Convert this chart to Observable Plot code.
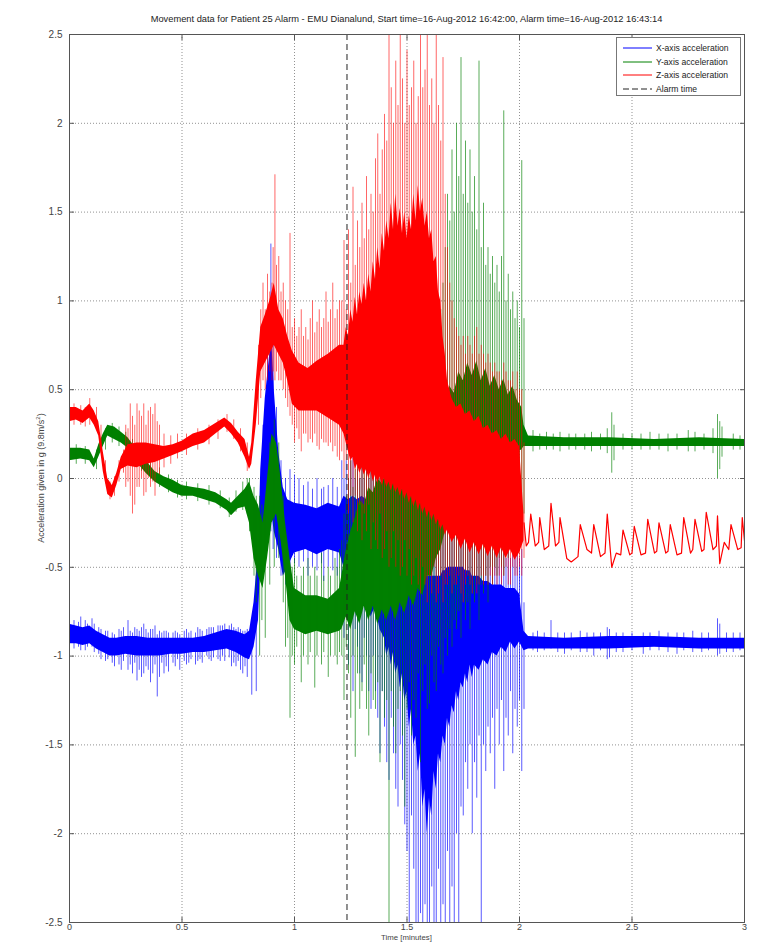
<!DOCTYPE html>
<html><head><meta charset="utf-8">
<script src="https://cdn.jsdelivr.net/npm/d3@7"></script>
<script src="https://cdn.jsdelivr.net/npm/@observablehq/plot@0.6"></script>
<style>
body{margin:0;background:#fff;overflow:hidden;font-family:"Liberation Sans",Arial,sans-serif;}
#wrap{position:relative;width:764px;height:942px;overflow:hidden;}
#title{position:absolute;left:69px;width:675px;top:14px;text-align:center;font-size:9.3px;color:#222;white-space:nowrap;}
#ylab{position:absolute;left:40px;top:478px;transform:translate(-50%,-50%) rotate(-90deg);font-size:9px;color:#444;white-space:nowrap;}
#xlab{position:absolute;left:69px;width:675px;top:934px;text-align:center;font-size:7.8px;line-height:8px;color:#444;}
#legend{position:absolute;left:616px;top:37px;width:123px;height:57px;border:1px solid #777;background:#fff;font-size:8.6px;color:#222;}
#legend .row{position:absolute;left:5px;height:12px;display:flex;align-items:center;}
#legend svg{margin-right:4px;}
</style></head>
<body>
<div id="wrap">
<div id="chart"></div>
<div id="title"></div>
<div id="ylab">Acceleration given in g (9.8m/s<sup style="font-size:6px">2</sup>)</div>
<div id="xlab">Time [minutes]</div>
<div id="legend"></div>
</div>
<script>
const titleText = "Movement data for Patient 25 Alarm - EMU Dianalund, Start time=16-Aug-2012 16:42:00, Alarm time=16-Aug-2012 16:43:14";
const seriesNames = ["X-axis acceleration", "Y-axis acceleration", "Z-axis acceleration", "Alarm time"];
const seriesColors = ["#0000ff", "#008000", "#ff0000", "#222222"];
const xTicks = [0, 0.5, 1, 1.5, 2, 2.5, 3];
const yTicks = [-2.5, -2, -1.5, -1, -0.5, 0, 0.5, 1, 1.5, 2, 2.5];
const alarmTime = [1.2333];

// X-axis (blue): dense core [time, low, high]
const xBand = [
[0.00,-0.93,-0.82],[0.03,-0.93,-0.83],[0.06,-0.94,-0.84],[0.09,-0.93,-0.83],[0.12,-0.96,-0.86],
[0.15,-0.98,-0.88],[0.18,-1.00,-0.90],[0.21,-1.00,-0.90],[0.25,-0.99,-0.89],[0.30,-1.00,-0.89],
[0.35,-1.00,-0.90],[0.40,-1.00,-0.90],[0.45,-0.99,-0.90],[0.50,-0.99,-0.90],[0.55,-0.98,-0.90],
[0.60,-0.98,-0.89],[0.65,-0.97,-0.87],[0.70,-0.96,-0.85],[0.74,-0.98,-0.86],[0.78,-1.01,-0.88],
[0.80,-1.02,-0.86],[0.82,-0.95,-0.70],[0.84,-0.80,-0.40],[0.85,-0.45,0.05],[0.87,-0.20,0.45],
[0.89,-0.15,0.70],[0.90,-0.20,0.75],[0.91,-0.30,0.50],[0.93,-0.40,0.15],[0.95,-0.55,-0.05],
[0.97,-0.50,-0.12],[1.00,-0.42,-0.14],[1.05,-0.40,-0.15],[1.10,-0.43,-0.17],[1.15,-0.40,-0.14],
[1.20,-0.42,-0.16],[1.22,-0.50,-0.10],[1.24,-0.48,-0.12],[1.26,-0.60,-0.10],[1.28,-0.55,-0.12],
[1.30,-0.70,-0.10],[1.32,-0.62,-0.12],[1.34,-0.78,-0.15],[1.36,-0.72,-0.15],[1.38,-0.85,-0.20],
[1.40,-0.90,-0.25],[1.41,-1.00,-0.25],[1.42,-0.95,-0.28],[1.43,-1.05,-0.30],[1.44,-0.98,-0.30],
[1.45,-1.10,-0.35],[1.46,-1.05,-0.35],[1.47,-1.18,-0.38],[1.48,-1.10,-0.40],[1.49,-1.25,-0.42],
[1.50,-1.20,-0.45],[1.51,-1.40,-0.45],[1.52,-1.30,-0.48],[1.53,-1.50,-0.48],[1.54,-1.45,-0.50],
[1.55,-1.65,-0.50],[1.56,-1.55,-0.52],[1.57,-1.85,-0.52],[1.58,-1.75,-0.55],[1.59,-2.00,-0.55],
[1.60,-1.80,-0.55],[1.61,-1.90,-0.55],[1.62,-1.65,-0.55],[1.63,-1.75,-0.55],[1.64,-1.55,-0.55],
[1.65,-1.60,-0.55],[1.66,-1.45,-0.52],[1.67,-1.50,-0.52],[1.68,-1.35,-0.50],[1.69,-1.40,-0.50],
[1.70,-1.28,-0.50],[1.71,-1.32,-0.50],[1.72,-1.20,-0.50],[1.73,-1.25,-0.50],[1.74,-1.15,-0.50],
[1.75,-1.18,-0.50],[1.76,-1.10,-0.52],[1.77,-1.15,-0.52],[1.78,-1.05,-0.52],[1.79,-1.12,-0.55],
[1.80,-1.05,-0.55],[1.82,-1.08,-0.55],[1.84,-1.02,-0.58],[1.86,-1.05,-0.58],[1.88,-0.98,-0.60],
[1.90,-1.00,-0.60],[1.92,-0.95,-0.60],[1.94,-0.98,-0.62],[1.96,-0.92,-0.62],[1.98,-0.96,-0.62],
[2.00,-0.92,-0.65],[2.02,-0.97,-0.86],[2.04,-0.96,-0.89],[2.20,-0.96,-0.90],[2.40,-0.96,-0.89],
[2.60,-0.95,-0.89],[2.80,-0.96,-0.90],[3.00,-0.96,-0.90]
];
// X-axis (blue): spikes [time, low, high]
const xSpikes = [
[0.02,-0.96,-0.80],[0.04,-0.95,-0.81],[0.05,-0.97,-0.78],[0.07,-0.97,-0.80],[0.08,-0.95,-0.82],
[0.10,-0.95,-0.79],[0.11,-0.98,-0.82],[0.13,-0.99,-0.84],[0.14,-1.02,-0.85],[0.16,-1.03,-0.86],
[0.17,-1.02,-0.86],[0.19,-1.04,-0.87],[0.20,-1.06,-0.88],[0.22,-1.05,-0.85],[0.23,-1.08,-0.86],
[0.24,-1.03,-0.84],[0.26,-1.08,-0.80],[0.27,-1.05,-0.86],[0.28,-1.10,-0.87],[0.29,-1.04,-0.84],
[0.30,-1.14,-0.85],[0.31,-1.08,-0.86],[0.32,-1.12,-0.84],[0.33,-1.10,-0.82],[0.34,-1.06,-0.85],
[0.35,-1.08,-0.87],[0.36,-1.15,-0.85],[0.37,-1.10,-0.85],[0.38,-1.05,-0.83],[0.39,-1.23,-0.88],
[0.40,-1.12,-0.86],[0.41,-1.04,-0.87],[0.42,-1.10,-0.86],[0.43,-1.06,-0.86],[0.44,-1.09,-0.87],
[0.46,-1.04,-0.87],[0.47,-1.06,-0.86],[0.48,-1.02,-0.87],[0.49,-1.08,-0.88],[0.51,-1.03,-0.86],
[0.52,-1.05,-0.85],[0.53,-1.04,-0.87],[0.54,-1.02,-0.86],[0.56,-1.05,-0.87],[0.57,-1.03,-0.84],
[0.58,-1.02,-0.85],[0.59,-1.04,-0.86],[0.61,-1.00,-0.85],[0.62,-1.02,-0.84],[0.63,-1.03,-0.84],
[0.64,-1.01,-0.84],[0.66,-1.02,-0.83],[0.67,-1.03,-0.83],[0.68,-1.00,-0.83],[0.69,-1.03,-0.82],
[0.71,-1.01,-0.83],[0.72,-1.06,-0.82],[0.73,-1.04,-0.84],[0.74,-1.06,-0.85],[0.75,-1.03,-0.84],
[0.76,-1.08,-0.85],[0.77,-1.10,-0.86],[0.78,-1.06,-0.86],[0.79,-1.12,-0.85],[0.81,-1.22,-0.80],
[0.83,-1.20,-0.55],[0.86,-0.50,0.30],[0.88,-0.35,0.95],[0.895,-0.30,1.32],[0.905,-0.40,0.85],
[0.92,-0.45,0.40],[0.94,-0.55,0.10],[0.96,-0.60,0.00],[0.98,-0.55,0.05],[1.00,-0.48,0.02],
[1.02,-0.50,0.00],[1.04,-0.47,-0.04],[1.06,-0.55,-0.02],[1.08,-0.50,-0.06],[1.10,-0.52,0.00],
[1.12,-0.48,-0.06],[1.13,-0.58,-0.05],[1.15,-0.50,-0.04],[1.17,-0.52,0.00],[1.19,-0.55,-0.05],
[1.21,-0.75,0.10],[1.22,-0.90,0.00],[1.23,-0.60,0.10],[1.24,-1.05,0.00],[1.25,-0.80,0.10],
[1.26,-1.20,0.15],[1.27,-0.85,0.00],[1.28,-0.95,0.05],[1.29,-1.10,0.00],[1.30,-1.15,0.10],
[1.31,-0.90,0.00],[1.32,-1.00,0.10],[1.33,-1.20,0.00],[1.34,-1.30,0.05],[1.35,-1.00,0.00],
[1.36,-1.20,0.10],[1.37,-1.35,0.00],[1.38,-1.55,0.00],[1.39,-1.20,0.05],[1.40,-1.40,0.15],
[1.41,-1.60,0.00],[1.42,-1.70,0.00],[1.43,-1.35,0.05],[1.44,-1.55,0.05],[1.45,-1.75,0.00],
[1.46,-1.85,0.00],[1.47,-1.50,-0.05],[1.48,-1.70,-0.10],[1.49,-1.95,-0.05],[1.50,-2.10,-0.10],
[1.51,-2.60,-0.10],[1.52,-1.90,-0.15],[1.53,-2.20,-0.10],[1.54,-2.60,-0.20],[1.55,-2.60,-0.20],
[1.56,-2.45,-0.20],[1.57,-2.60,-0.10],[1.58,-2.40,-0.20],[1.59,-2.60,-0.20],[1.60,-2.60,-0.10],
[1.61,-2.30,-0.20],[1.62,-2.60,-0.20],[1.63,-2.60,-0.20],[1.64,-2.20,-0.30],[1.65,-2.60,-0.20],
[1.66,-2.40,-0.20],[1.67,-2.60,-0.30],[1.68,-2.10,-0.20],[1.69,-2.60,-0.30],[1.70,-2.30,-0.30],
[1.71,-2.60,-0.30],[1.72,-2.00,-0.30],[1.73,-2.60,-0.30],[1.74,-1.85,-0.35],[1.75,-1.90,-0.30],
[1.76,-1.60,-0.35],[1.77,-1.75,-0.30],[1.78,-1.50,-0.35],[1.79,-2.00,-0.30],[1.80,-1.60,-0.35],
[1.81,-1.80,-0.30],[1.82,-1.45,-0.35],[1.83,-2.60,-0.30],[1.84,-1.50,-0.40],[1.85,-1.65,-0.35],
[1.86,-1.40,-0.40],[1.87,-1.55,-0.30],[1.88,-1.35,-0.40],[1.89,-1.75,-0.35],[1.90,-1.30,-0.40],
[1.91,-1.50,-0.35],[1.92,-1.25,-0.40],[1.93,-1.65,-0.40],[1.94,-1.35,-0.45],[1.95,-1.45,-0.40],
[1.96,-1.20,-0.45],[1.97,-1.55,-0.40],[1.98,-1.30,-0.45],[1.99,-1.40,-0.40],[2.00,-1.25,-0.45],
[2.01,-1.65,-0.40],[2.02,-1.30,-0.70],
[2.06,-0.97,-0.87],[2.08,-0.98,-0.86],[2.11,-0.97,-0.87],[2.14,-0.96,-0.80],[2.17,-0.98,-0.87],
[2.20,-0.99,-0.87],[2.23,-0.97,-0.87],[2.27,-0.98,-0.86],[2.30,-0.98,-0.87],[2.33,-1.00,-0.87],
[2.36,-0.97,-0.87],[2.39,-1.02,-0.84],[2.40,-1.01,-0.85],[2.43,-0.98,-0.87],[2.46,-0.98,-0.87],
[2.50,-0.97,-0.87],[2.55,-0.99,-0.87],[2.58,-0.97,-0.87],[2.62,-0.97,-0.86],[2.66,-0.98,-0.87],
[2.70,-0.99,-0.87],[2.73,-0.97,-0.87],[2.77,-0.98,-0.86],[2.81,-0.98,-0.87],[2.84,-0.97,-0.87],
[2.88,-1.00,-0.79],[2.89,-0.99,-0.82],[2.92,-0.98,-0.87],[2.95,-0.98,-0.87],[2.98,-0.97,-0.87]
];

// Y-axis (green): dense core
const yBand = [
[0.00,0.10,0.17],[0.05,0.11,0.17],[0.09,0.10,0.16],[0.11,0.06,0.11],[0.13,0.12,0.19],
[0.15,0.18,0.25],[0.17,0.24,0.30],[0.20,0.22,0.29],[0.23,0.20,0.26],[0.26,0.17,0.23],
[0.30,0.09,0.16],[0.34,0.03,0.10],[0.38,-0.02,0.04],[0.42,-0.05,0.01],[0.46,-0.08,-0.01],
[0.50,-0.10,-0.04],[0.55,-0.10,-0.05],[0.60,-0.12,-0.06],[0.65,-0.14,-0.08],[0.70,-0.18,-0.12],
[0.72,-0.21,-0.14],[0.75,-0.17,-0.10],[0.78,-0.16,-0.06],[0.80,-0.25,-0.02],[0.82,-0.45,-0.10],
[0.84,-0.55,-0.15],[0.86,-0.62,-0.25],[0.88,-0.45,0.00],[0.90,-0.25,0.25],[0.92,-0.20,0.20],
[0.94,-0.35,0.00],[0.96,-0.55,-0.25],[0.98,-0.80,-0.45],[1.00,-0.85,-0.62],[1.05,-0.88,-0.66],
[1.10,-0.86,-0.66],[1.15,-0.88,-0.68],[1.20,-0.86,-0.62],[1.21,-0.85,-0.55],[1.23,-0.78,-0.40],
[1.25,-0.85,-0.30],[1.27,-0.75,-0.22],[1.29,-0.82,-0.12],[1.31,-0.72,-0.15],[1.33,-0.80,-0.05],
[1.35,-0.72,-0.08],[1.37,-0.82,0.00],[1.39,-0.74,-0.03],[1.41,-0.80,0.05],[1.43,-0.72,0.00],
[1.45,-0.80,0.08],[1.47,-0.70,0.03],[1.49,-0.76,0.12],[1.51,-0.66,0.08],[1.53,-0.72,0.15],
[1.55,-0.62,0.12],[1.57,-0.66,0.20],[1.59,-0.55,0.18],[1.61,-0.55,0.25],[1.63,-0.45,0.30],
[1.65,-0.40,0.38],[1.67,-0.30,0.42],[1.69,-0.25,0.52],[1.71,-0.15,0.48],[1.73,-0.10,0.60],
[1.75,-0.05,0.55],[1.77,-0.08,0.65],[1.79,0.00,0.58],[1.81,-0.02,0.66],[1.83,0.05,0.55],
[1.85,0.02,0.62],[1.87,0.08,0.52],[1.89,0.05,0.58],[1.91,0.10,0.50],[1.93,0.08,0.56],
[1.95,0.12,0.47],[1.97,0.10,0.52],[1.99,0.15,0.44],[2.01,0.16,0.40],[2.02,0.18,0.30],
[2.04,0.18,0.24],[2.20,0.18,0.23],[2.40,0.18,0.23],[2.60,0.18,0.22],[2.80,0.18,0.23],[3.00,0.18,0.22]
];
// Y-axis (green): spikes
const ySpikes = [
[0.03,0.08,0.19],[0.07,0.08,0.18],[0.12,0.05,0.16],[0.16,0.16,0.28],[0.19,0.20,0.31],
[0.22,0.18,0.29],[0.25,0.14,0.26],[0.28,0.11,0.22],[0.32,0.04,0.15],[0.36,0.00,0.09],
[0.40,-0.05,0.06],[0.44,-0.08,0.02],[0.48,-0.11,-0.01],[0.52,-0.12,-0.02],[0.57,-0.13,-0.03],
[0.62,-0.15,-0.04],[0.67,-0.17,-0.07],[0.71,-0.22,-0.11],[0.74,-0.19,-0.07],[0.77,-0.18,-0.02],
[0.79,-0.20,0.00],[0.80,-0.30,0.00],[0.82,-0.55,-0.05],[0.83,-0.70,-0.10],[0.845,-1.00,-0.10],
[0.855,-0.80,-0.15],[0.87,-0.90,-0.20],[0.89,-0.60,0.20],[0.91,-0.50,0.33],[0.93,-0.45,0.20],
[0.95,-0.70,-0.10],[0.96,-0.95,-0.35],[0.97,-0.90,-0.40],[0.98,-1.35,-0.50],[0.99,-1.00,-0.50],
[1.00,-1.05,-0.45],[1.01,-0.95,-0.55],[1.03,-1.15,-0.55],[1.04,-1.00,-0.50],[1.06,-1.05,-0.45],
[1.07,-0.98,-0.55],[1.09,-1.18,-0.50],[1.10,-1.00,-0.55],[1.12,-1.05,-0.42],[1.13,-0.98,-0.55],
[1.15,-1.12,-0.50],[1.16,-1.00,-0.55],[1.18,-1.00,-0.45],[1.19,-1.05,-0.50],[1.20,-0.98,-0.40],
[1.21,-1.00,-0.35],[1.22,-1.25,-0.20],[1.23,-0.95,-0.10],[1.24,-1.10,0.00],[1.25,-1.35,0.10],
[1.26,-1.00,-0.05],[1.27,-1.57,0.05],[1.28,-1.10,0.15],[1.29,-1.30,0.00],[1.30,-1.20,0.20],
[1.31,-1.05,0.10],[1.32,-1.30,0.05],[1.33,-1.45,0.15],[1.34,-1.10,0.20],[1.35,-1.25,0.05],
[1.36,-1.30,0.25],[1.37,-1.15,0.15],[1.38,-1.60,0.10],[1.39,-1.20,0.25],[1.40,-1.35,0.20],
[1.41,-1.25,0.10],[1.42,-2.60,0.20],[1.43,-1.20,0.30],[1.44,-1.40,0.15],[1.45,-1.55,0.30],
[1.46,-1.30,0.25],[1.47,-1.20,0.35],[1.48,-1.45,0.20],[1.49,-1.85,0.30],[1.50,-1.30,0.40],
[1.51,-1.15,0.30],[1.52,-1.45,0.40],[1.53,-1.25,0.45],[1.54,-1.35,0.35],[1.55,-1.10,0.50],
[1.56,-1.60,0.50],[1.57,-1.20,0.60],[1.58,-1.05,0.55],[1.59,-1.30,0.70],[1.60,-1.27,0.55],
[1.61,-1.00,0.75],[1.62,-1.15,0.90],[1.63,-1.20,0.80],[1.64,-0.95,1.00],[1.65,-1.05,0.95],
[1.66,-1.10,1.10],[1.67,-0.90,1.30],[1.68,-1.00,1.60],[1.69,-0.85,1.45],[1.70,-0.95,1.85],
[1.71,-0.80,1.50],[1.72,-0.85,2.00],[1.73,-0.75,1.70],[1.74,-0.90,2.37],[1.75,-0.70,1.60],
[1.76,-0.80,1.90],[1.77,-0.70,1.55],[1.78,-0.85,1.85],[1.79,-0.65,1.50],[1.80,-0.70,1.70],
[1.81,-0.60,1.40],[1.82,-0.80,2.35],[1.83,-0.60,1.30],[1.84,-0.65,1.55],[1.85,-0.55,1.20],
[1.86,-0.70,1.30],[1.87,-0.50,1.15],[1.88,-0.60,1.25],[1.89,-0.50,1.10],[1.90,-0.55,1.20],
[1.91,-0.45,1.05],[1.92,-0.50,1.25],[1.93,-0.55,2.07],[1.94,-0.40,1.00],[1.95,-0.45,1.15],
[1.96,-0.35,0.95],[1.97,-0.40,1.05],[1.98,-0.30,0.90],[1.99,-0.35,1.00],[2.00,-0.25,0.85],
[2.01,-0.30,1.79],[2.02,-0.20,0.90],
[2.06,0.15,0.27],[2.09,0.16,0.25],[2.12,0.16,0.26],[2.15,0.16,0.25],[2.18,0.15,0.26],
[2.22,0.16,0.25],[2.25,0.16,0.25],[2.29,0.16,0.25],[2.32,0.15,0.26],[2.36,0.16,0.25],
[2.39,0.14,0.28],[2.41,0.03,0.37],[2.42,0.10,0.30],[2.46,0.16,0.25],[2.50,0.16,0.25],
[2.54,0.16,0.25],[2.58,0.16,0.26],[2.62,0.16,0.25],[2.66,0.15,0.25],[2.70,0.16,0.25],
[2.75,0.15,0.27],[2.78,0.15,0.26],[2.82,0.16,0.25],[2.86,0.14,0.28],[2.88,0.00,0.36],
[2.89,0.05,0.32],[2.90,0.12,0.29],[2.95,0.16,0.25],[2.98,0.16,0.24]
];

// Z-axis (red): dense core
const zBand = [
[0.00,0.32,0.40],[0.03,0.33,0.40],[0.06,0.31,0.38],[0.09,0.34,0.42],[0.11,0.30,0.38],
[0.13,0.24,0.32],[0.15,0.04,0.15],[0.17,-0.09,0.00],[0.19,-0.11,-0.04],[0.21,-0.04,0.03],
[0.23,0.05,0.12],[0.26,0.07,0.19],[0.30,0.06,0.20],[0.34,0.08,0.20],[0.38,0.09,0.19],
[0.42,0.11,0.18],[0.46,0.13,0.19],[0.50,0.15,0.21],[0.55,0.18,0.25],[0.60,0.20,0.27],
[0.65,0.25,0.31],[0.69,0.29,0.34],[0.72,0.25,0.31],[0.75,0.20,0.26],[0.78,0.12,0.22],
[0.80,0.05,0.12],[0.81,0.08,0.20],[0.83,0.30,0.55],[0.85,0.60,0.85],[0.87,0.65,0.92],
[0.89,0.70,1.00],[0.91,0.75,1.10],[0.93,0.70,0.95],[0.95,0.65,0.90],[0.97,0.55,0.80],
[0.99,0.42,0.72],[1.02,0.38,0.65],[1.06,0.38,0.62],[1.10,0.38,0.66],[1.15,0.34,0.70],
[1.20,0.30,0.75],[1.22,0.25,0.75],[1.23,0.20,0.85],[1.24,0.15,0.80],[1.25,0.10,0.95],
[1.26,0.12,0.88],[1.27,0.05,1.02],[1.28,0.08,0.92],[1.29,0.03,1.05],[1.30,0.06,0.98],
[1.31,0.02,1.10],[1.32,0.05,1.00],[1.33,0.00,1.15],[1.34,0.04,1.05],[1.35,-0.02,1.22],
[1.36,0.02,1.12],[1.37,-0.03,1.30],[1.38,0.01,1.18],[1.39,-0.04,1.38],[1.40,0.00,1.28],
[1.41,-0.05,1.45],[1.42,-0.02,1.35],[1.43,-0.07,1.55],[1.44,-0.03,1.40],[1.45,-0.08,1.60],
[1.46,-0.05,1.42],[1.47,-0.10,1.52],[1.48,-0.06,1.38],[1.49,-0.12,1.50],[1.50,-0.08,1.35],
[1.51,-0.14,1.48],[1.52,-0.10,1.40],[1.53,-0.16,1.60],[1.54,-0.12,1.45],[1.55,-0.18,1.65],
[1.56,-0.14,1.50],[1.57,-0.20,1.58],[1.58,-0.16,1.42],[1.59,-0.22,1.50],[1.60,-0.18,1.35],
[1.61,-0.24,1.40],[1.62,-0.20,1.22],[1.63,-0.26,1.25],[1.64,-0.23,1.05],[1.65,-0.29,1.00],
[1.66,-0.26,0.80],[1.67,-0.32,0.70],[1.68,-0.29,0.55],[1.70,-0.36,0.45],[1.72,-0.32,0.40],
[1.74,-0.40,0.42],[1.76,-0.34,0.36],[1.78,-0.42,0.38],[1.80,-0.36,0.32],[1.82,-0.43,0.35],
[1.84,-0.37,0.28],[1.86,-0.44,0.30],[1.88,-0.38,0.25],[1.90,-0.45,0.27],[1.92,-0.39,0.22],
[1.94,-0.45,0.25],[1.96,-0.40,0.20],[1.98,-0.46,0.22],[2.00,-0.42,0.18],[2.02,-0.35,-0.20]
];
// Z-axis (red): spikes
const zSpikes = [
[0.02,0.30,0.42],[0.05,0.30,0.41],[0.07,0.29,0.40],[0.09,0.30,0.45],[0.12,0.27,0.40],
[0.14,0.14,0.30],[0.16,-0.03,0.10],[0.18,-0.12,-0.02],[0.20,-0.10,0.01],[0.22,-0.02,0.10],
[0.24,0.03,0.16],[0.25,-0.05,0.30],[0.26,-0.02,0.28],[0.27,-0.10,0.42],[0.28,-0.20,0.35],
[0.29,-0.15,0.30],[0.30,-0.05,0.42],[0.31,-0.05,0.38],[0.32,0.00,0.35],[0.33,-0.10,0.42],
[0.34,-0.08,0.30],[0.35,0.00,0.38],[0.36,-0.05,0.40],[0.37,-0.02,0.36],[0.38,-0.10,0.42],
[0.39,0.03,0.32],[0.40,0.02,0.30],[0.42,0.06,0.25],[0.45,0.08,0.24],[0.48,0.11,0.25],
[0.52,0.13,0.25],[0.57,0.16,0.28],[0.62,0.19,0.30],[0.66,0.22,0.33],[0.70,0.26,0.36],
[0.73,0.22,0.33],[0.76,0.15,0.28],[0.79,0.04,0.20],
[0.84,0.30,0.75],[0.85,0.45,0.95],[0.86,0.55,1.10],[0.87,0.50,0.95],[0.88,0.55,1.15],
[0.89,0.60,1.05],[0.90,0.55,1.10],[0.905,0.60,1.30],[0.913,0.55,1.71],[0.92,0.60,1.20],
[0.93,0.55,1.25],[0.94,0.55,1.05],[0.95,0.50,1.10],[0.96,0.45,1.00],[0.97,0.40,0.95],
[0.98,0.35,1.38],[0.99,0.30,0.85],[1.00,0.20,0.90],[1.01,0.28,0.80],[1.02,0.22,0.85],
[1.03,0.15,0.95],[1.04,0.25,0.80],[1.05,0.25,0.85],[1.06,0.20,0.78],[1.07,0.22,0.90],
[1.08,0.20,1.00],[1.09,0.25,0.82],[1.10,0.18,0.88],[1.11,0.16,0.95],[1.12,0.22,0.85],
[1.13,0.20,0.90],[1.14,0.20,1.05],[1.15,0.18,0.88],[1.16,0.20,0.95],[1.17,0.15,1.10],
[1.18,0.18,0.90],[1.19,0.12,0.95],[1.20,0.10,1.00],
[1.21,0.15,1.00],[1.22,0.00,1.34],[1.23,0.10,0.95],[1.24,-0.20,1.40],[1.25,-0.10,1.10],
[1.26,-0.25,1.64],[1.27,-0.10,1.20],[1.28,-0.30,1.45],[1.29,-0.15,1.30],[1.30,-0.35,1.55],
[1.31,-0.20,1.35],[1.32,-0.30,1.70],[1.33,-0.15,1.40],[1.34,-0.40,1.60],[1.35,-0.25,1.50],
[1.36,-0.35,1.80],[1.37,-0.40,1.94],[1.38,-0.20,1.60],[1.39,-0.45,1.85],[1.40,-0.40,2.05],
[1.41,-0.30,1.90],[1.42,-0.50,2.60],[1.43,-0.45,2.20],[1.44,-0.30,2.00],[1.45,-0.50,2.35],
[1.46,-0.35,2.10],[1.47,-0.55,2.60],[1.48,-0.50,2.25],[1.49,-0.35,2.00],[1.50,-0.55,2.41],
[1.51,-0.40,2.10],[1.52,-0.60,2.20],[1.53,-0.55,2.35],[1.54,-0.45,2.00],[1.55,-0.60,2.15],
[1.56,-0.65,2.60],[1.57,-0.50,2.20],[1.58,-0.60,2.30],[1.59,-0.70,2.60],[1.60,-0.55,2.10],
[1.61,-0.65,2.25],[1.62,-0.50,2.00],[1.63,-0.70,2.60],[1.64,-0.65,2.10],[1.65,-0.55,1.90],
[1.66,-0.70,2.37],[1.67,-0.60,1.60],[1.68,-0.60,1.30],[1.69,-0.55,1.10],[1.70,-0.65,1.00],
[1.71,-0.60,0.90],[1.72,-0.60,0.85],[1.73,-0.55,0.80],[1.74,-0.65,0.75],[1.75,-0.70,0.80],
[1.76,-0.60,0.70],[1.77,-0.55,0.80],[1.78,-0.60,0.75],[1.79,-0.65,0.70],[1.80,-0.55,0.80],
[1.81,-0.65,0.85],[1.82,-0.60,0.70],[1.83,-0.55,0.75],[1.84,-0.60,0.70],[1.85,-0.55,0.65],
[1.86,-0.60,0.70],[1.87,-0.55,0.65],[1.88,-0.60,0.60],[1.89,-0.55,0.65],[1.90,-0.60,0.60],
[1.91,-0.55,0.60],[1.92,-0.60,0.55],[1.93,-0.55,0.65],[1.94,-0.50,0.60],[1.95,-0.60,0.55],
[1.96,-0.60,0.55],[1.97,-0.50,0.60],[1.98,-0.55,0.50],[1.99,-0.55,0.60],[2.00,-0.50,0.50],
[2.01,-0.55,0.50],[2.02,-0.45,0.20]
];
// Z-axis (red): trace after the seizure [time, value]
const zTail = [
[2.02,-0.25],[2.03,-0.38],[2.04,-0.36],[2.05,-0.20],[2.07,-0.38],[2.085,-0.36],[2.09,-0.22],
[2.11,-0.40],[2.13,-0.38],[2.14,-0.14],[2.16,-0.38],[2.175,-0.36],[2.18,-0.22],[2.21,-0.45],
[2.23,-0.47],[2.26,-0.44],[2.27,-0.26],[2.30,-0.40],[2.32,-0.42],[2.33,-0.26],[2.36,-0.44],
[2.38,-0.42],[2.39,-0.20],[2.41,-0.50],[2.43,-0.42],[2.45,-0.43],[2.46,-0.29],[2.49,-0.43],
[2.50,-0.42],[2.51,-0.27],[2.54,-0.43],[2.56,-0.42],[2.57,-0.23],[2.60,-0.42],[2.61,-0.41],
[2.62,-0.25],[2.65,-0.42],[2.66,-0.41],[2.67,-0.26],[2.70,-0.43],[2.72,-0.42],[2.73,-0.22],
[2.76,-0.42],[2.77,-0.40],[2.78,-0.23],[2.81,-0.41],[2.82,-0.40],[2.83,-0.19],[2.86,-0.40],
[2.875,-0.38],[2.88,-0.21],[2.89,-0.48],[2.91,-0.36],[2.93,-0.40],[2.94,-0.26],[2.97,-0.40],
[2.985,-0.39],[2.99,-0.22],[3.00,-0.35]
];

const fmt = d => String(d);
const bandMark = (data, color) => Plot.areaY(data, {x: d => d[0], y1: d => d[1], y2: d => d[2], fill: color, curve: "linear", clip: true});
const spikeMark = (data, color, op) => Plot.ruleX(data, {x: d => d[0], y1: d => d[1], y2: d => d[2], stroke: color, strokeOpacity: op, strokeWidth: 1, clip: true});

const chart = Plot.plot({
  width: 764, height: 942,
  marginLeft: 69, marginRight: 20, marginTop: 34, marginBottom: 20,
  style: {fontFamily: "Liberation Sans, Arial, sans-serif", fontSize: "10px", color: "#444", background: "#fff"},
  x: {domain: [0, 3]},
  y: {domain: [-2.5, 2.5]},
  marks: [
    Plot.gridX({ticks: xTicks, stroke: "#777", strokeOpacity: 0.8, strokeDasharray: "1,2"}),
    Plot.gridY({ticks: yTicks, stroke: "#777", strokeOpacity: 0.8, strokeDasharray: "1,2"}),
    bandMark(xBand, seriesColors[0]),
    spikeMark(xSpikes, seriesColors[0], 0.65),
    bandMark(yBand, seriesColors[1]),
    spikeMark(ySpikes, seriesColors[1], 0.65),
    bandMark(zBand, seriesColors[2]),
    spikeMark(zSpikes, seriesColors[2], 0.6),
    Plot.line(zTail, {x: d => d[0], y: d => d[1], stroke: seriesColors[2], strokeWidth: 1.2, clip: true}),
    Plot.ruleX(alarmTime, {stroke: seriesColors[3], strokeWidth: 1, strokeDasharray: "6,4"}),
    Plot.frame({stroke: "#555"}),
    Plot.axisX({anchor: "bottom", ticks: xTicks, tickSize: -5, tickPadding: 6, fontSize: 9, tickFormat: fmt, label: null, stroke: "#555"}),
    Plot.axisX({anchor: "top", ticks: xTicks, tickSize: -5, tickFormat: () => "", label: null, stroke: "#555"}),
    Plot.axisY({anchor: "left", ticks: yTicks, tickSize: -5, tickPadding: 12, tickFormat: fmt, label: null, stroke: "#555"}),
    Plot.axisY({anchor: "right", ticks: yTicks, tickSize: -5, tickFormat: () => "", label: null, stroke: "#555"})
  ]
});
document.getElementById("chart").appendChild(chart);
document.getElementById("title").textContent = titleText;

const legend = document.getElementById("legend");
seriesNames.forEach((name, i) => {
  const row = document.createElement("div");
  row.className = "row";
  row.style.top = (4 + i * 13.5) + "px";
  const dash = i === 3 ? ' stroke-dasharray="6,3"' : "";
  row.innerHTML = `<svg width="30" height="6"><line x1="1" y1="3" x2="30" y2="3" stroke="${seriesColors[i]}" stroke-width="1"${dash}/></svg><span>${name}</span>`;
  legend.appendChild(row);
});
</script>
</body></html>
